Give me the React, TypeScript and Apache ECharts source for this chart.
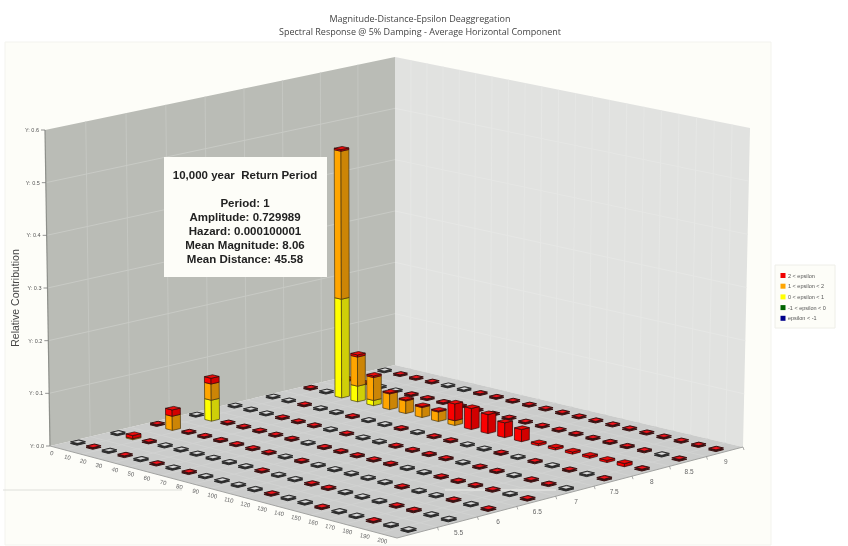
import React, { useEffect, useRef } from "react";
import * as echarts from "echarts";

const titleLines = [
  "Magnitude-Distance-Epsilon Deaggregation",
  "Spectral Response @ 5% Damping - Average Horizontal Component",
];
const distances = [0, 10, 20, 30, 40, 50, 60, 70, 80, 90, 100, 110, 120, 130, 140, 150, 160, 170, 180, 190, 200];
const magnitudes = [5, 5.5, 6, 6.5, 7, 7.5, 8, 8.5, 9];
const magnitudeTickLabels = [5.5, 6, 6.5, 7, 7.5, 8, 8.5, 9];
const contributionTicks = [0, 0.1, 0.2, 0.3, 0.4, 0.5, 0.6];

// top colour of the tiny column in each cell, one string per magnitude: R red, W pale
const cellTops = [
  "WRWRWRWRWWWWRWWRWWRWW",
  "WRRWWWWWWRWWRRWWWRRWW",
  "RRRRRRRRWRWWWWWRWWRWR",
  "WRRRRRRWRRRRRWWRRRRWR",
  "WWWRRRWRWWRRRRWRRWRRW",
  "WWRWWRWWRWRRWWRWRWRWR",
  "RWRRRRRRRRRRRRRRRRRRR",
  "RRWWRRRRRRRRRRRRRRRWR",
  "WRRRWWRRRRRRRRRRRRRRR",
];
const tinyColumnHeight = 0.003;

// columns: distance, magnitude, 0<eps<1, 1<eps<2, 2<eps
const columns: number[][] = [
  [10, 5.5, 0, 0.002, 0.006],
  [10, 6, 0, 0.027, 0.012],
  [10, 6.5, 0.04, 0.031, 0.011],
  [20, 8, 0.19, 0.285, 0.003],
  [30, 8, 0.03, 0.056, 0.004],
  [40, 8, 0.01, 0.044, 0.003],
  [50, 8, 0, 0.03, 0.002],
  [60, 8, 0, 0.024, 0.002],
  [70, 8, 0, 0.019, 0.002],
  [80, 8, 0, 0.018, 0.002],
  [90, 8, 0, 0.009, 0.032],
  [100, 8, 0, 0, 0.04],
  [110, 8, 0, 0, 0.036],
  [120, 8, 0, 0, 0.028],
  [130, 8, 0, 0, 0.023],
  [140, 8, 0, 0, 0.004],
  [150, 8, 0, 0, 0.004],
  [160, 8, 0, 0, 0.004],
  [170, 8, 0, 0, 0.004],
  [180, 8, 0, 0, 0.004],
  [190, 8, 0, 0, 0.006],
];

const legendNames = ["2 < epsilon", "1 < epsilon < 2", "0 < epsilon < 1", "-1 < epsilon < 0", "epsilon < -1"];
const legendColors = ["#f00000", "#ffa500", "#ffff00", "#006400", "#00008b"];
const noteLines = [
  "10,000 year  Return Period",
  "",
  "Period: 1",
  "Amplitude: 0.729989",
  "Hazard: 0.000100001",
  "Mean Magnitude: 8.06",
  "Mean Distance: 45.58",
];

type Pt = [number, number];
function quad(p: Pt[]) {
  const [[x0, y0], [x1, y1], [x2, y2], [x3, y3]] = p;
  const dx1 = x1 - x2, dx2 = x3 - x2, sx = x0 - x1 + x2 - x3;
  const dy1 = y1 - y2, dy2 = y3 - y2, sy = y0 - y1 + y2 - y3;
  const det = dx1 * dy2 - dx2 * dy1;
  const g = (sx * dy2 - dx2 * sy) / det;
  const h = (dx1 * sy - sx * dy1) / det;
  const a = x1 - x0 + g * x1, b = x3 - x0 + h * x3;
  const d = y1 - y0 + g * y1, e = y3 - y0 + h * y3;
  return (u: number, v: number): Pt => {
    const w = g * u + h * v + 1;
    return [(a * u + b * v + x0) / w, (d * u + e * v + y0) / w];
  };
}
const floorMap = quad([[50, 446], [397, 538], [743, 447], [395, 365]]);
const ceilMap = quad([[45, 130], [397, 210], [750, 128], [395, 57]]);
const D0 = -5, D1 = 205, M0 = 4.75, M1 = 9.25, Z1 = 0.6;
function project(d: number, m: number, z = 0): Pt {
  const u = (d - D0) / (D1 - D0), v = (m - M0) / (M1 - M0);
  const a = floorMap(u, v), b = ceilMap(u, v), t = z / Z1;
  return [a[0] + (b[0] - a[0]) * t, a[1] + (b[1] - a[1]) * t];
}

const COL_D = 2.1, COL_M = 0.052;
const FILL: Record<string, [string, string, string]> = {
  y: ["#ffff00", "#cfcf08", "rgba(70,60,10,0.85)"],
  o: ["#ffa500", "#cc8506", "rgba(70,50,10,0.85)"],
  r: ["#fb0000", "#d20000", "rgba(55,8,8,0.9)"],
};

function columnShapes(d: number, m: number, parts: [string, number][]) {
  const out: any[] = [];
  const poly = (points: Pt[], fill: string, stroke: string, lineWidth: number) =>
    out.push({ type: "polygon", shape: { points }, style: { fill, stroke, lineWidth } });
  let z = 0;
  for (const [key, h] of parts) {
    if (h <= 0) continue;
    const z2 = z + h;
    poly(
      [project(d - COL_D, m - COL_M, z), project(d + COL_D, m - COL_M, z), project(d + COL_D, m - COL_M, z2), project(d - COL_D, m - COL_M, z2)],
      FILL[key][0], FILL[key][2], 0.8,
    );
    poly(
      [project(d + COL_D, m - COL_M, z), project(d + COL_D, m + COL_M, z), project(d + COL_D, m + COL_M, z2), project(d + COL_D, m - COL_M, z2)],
      FILL[key][1], FILL[key][2], 0.8,
    );
    z = z2;
  }
  poly(
    [project(d - COL_D, m - COL_M, z), project(d + COL_D, m - COL_M, z), project(d + COL_D, m + COL_M, z), project(d - COL_D, m + COL_M, z)],
    "#ee0a0a", "rgba(40,12,10,0.9)", 0.8,
  );
  return out;
}

function markerShapes(d: number, m: number, top: string) {
  const foot = (s: number, z: number): Pt[] => [
    project(d - COL_D * s, m - COL_M * s, z), project(d + COL_D * s, m - COL_M * s, z),
    project(d + COL_D * s, m + COL_M * s, z), project(d - COL_D * s, m + COL_M * s, z),
  ];
  const edge = top === "R" ? "#3a1212" : "#2c2c2c";
  return [
    { type: "polygon", shape: { points: foot(1, 0) }, style: { fill: edge, stroke: edge, lineWidth: 1 } },
    { type: "polygon", shape: { points: foot(1, tinyColumnHeight) }, style: { fill: top === "R" ? "#8a1015" : "#6a6a6a", stroke: edge, lineWidth: 1 } },
    { type: "polygon", shape: { points: foot(0.58, tinyColumnHeight) }, style: { fill: top === "R" ? "#f8141c" : "#dcdcdc" } },
  ];
}

function buildCells() {
  const cells: (number | string)[][] = [];
  for (let j = magnitudes.length - 1; j >= 0; j--) {
    distances.forEach((d, i) => {
      const m = magnitudes[j];
      const col = columns.find((c) => c[0] === d && c[1] === m);
      if (col) cells.push([d, m, col[2], col[3], col[4], "C"]);
      else cells.push([d, m, 0, 0, 0, cellTops[j][i]]);
    });
  }
  return cells;
}

function wallGraphics() {
  const els: any[] = [];
  const line = (a: Pt, b: Pt, stroke: string, lineWidth = 1) =>
    els.push({ type: "line", shape: { x1: a[0], y1: a[1], x2: b[0], y2: b[1] }, style: { stroke, lineWidth } });
  const poly = (points: Pt[], fill: string) => els.push({ type: "polygon", shape: { points }, style: { fill } });
  const text = (t: string, x: number, y: number, font: string, fill: string, align = "center", rotation = 0) =>
    els.push({ type: "text", x, y, rotation, style: { text: t, x: 0, y: 0, font, fill, textAlign: align, textVerticalAlign: "middle" } });

  els.push({ type: "rect", shape: { x: 5, y: 42, width: 766, height: 503 }, style: { fill: "#fdfdf8", stroke: "#f3f3ee", lineWidth: 1 } });

  poly([project(D0, M0), project(D0, M1), project(D0, M1, Z1), project(D0, M0, Z1)], "#babcb6");
  poly([project(D0, M1), project(D1, M1), project(D1, M1, Z1), project(D0, M1, Z1)], "#e1e2e0");
  poly([project(D0, M0), project(D1, M0), project(D1, M1), project(D0, M1)], "#cbcccb");

  for (let i = 1; i < magnitudes.length; i++) {
    const m = M0 + i * 0.5;
    line(project(D0, m), project(D0, m, Z1), "#c5c7c2");
    line(project(D0, m), project(D1, m), "#d1d2d1");
  }
  for (let i = 1; i < distances.length; i++) {
    const d = D0 + i * 10;
    line(project(d, M1), project(d, M1, Z1), "#e6e7e5");
    line(project(d, M0), project(d, M1), "#d1d2d1");
  }
  contributionTicks.slice(1, -1).forEach((z) => {
    line(project(D0, M0, z), project(D0, M1, z), "#c8cac5");
    line(project(D0, M1, z), project(D1, M1, z), "#e6e7e5");
  });
  line(project(D0, M0), project(D0, M0, Z1), "#8d8f8a", 1.2);
  line(project(D0, M0), project(D1, M0), "#a2a3a1", 1);
  line(project(D1, M0), project(D1, M1), "#a2a3a1", 1);

  contributionTicks.forEach((z) => {
    const p = project(D0, M0, z);
    line([p[0] - 4, p[1]], p, "#777", 0.8);
    text("Y: " + z.toFixed(1), p[0] - 6, p[1], "5.5px 'Liberation Sans'", "#555", "right");
  });
  distances.forEach((d) => {
    const p = project(d, M0);
    text(String(d), p[0] - 6, p[1] + 5, "6px 'Liberation Sans'", "#666", "center", -0.22);
  });
  magnitudes.forEach((m) => {
    const a = project(D1, m + 0.25);
    line(a, [a[0] + 1, a[1] + 3], "#888", 0.7);
  });
  magnitudeTickLabels.forEach((m) => {
    const p = project(D1, m);
    text(String(m), p[0] + 1, p[1] + 10, "6.5px 'Liberation Sans'", "#666");
  });

  line([3, 490], [182, 490], "#dedfda", 1);
  line([445, 490], [556, 490], "#ecece9", 1);

  titleLines.forEach((t, i) => text(t, 420, 18 + i * 13, "9px 'Open Sans'", "#444"));
  text("Relative Contribution", 15, 298, "10.5px 'Liberation Sans'", "#444", "center", Math.PI / 2);

  els.push({ type: "rect", shape: { x: 164, y: 157, width: 163, height: 120 }, style: { fill: "#fdfdf8" } });
  noteLines.forEach((t, i) => {
    if (t) text(t, 245, 175 + i * 14, "bold 11.5px 'Liberation Sans'", "#222");
  });

  els.push({ type: "rect", shape: { x: 775, y: 265, width: 60, height: 63 }, style: { fill: "#fdfdf8", stroke: "#eeeee8", lineWidth: 1 } });
  legendNames.forEach((t, i) => {
    const y = 275.5 + i * 10.7;
    els.push({ type: "rect", shape: { x: 780.5, y: y - 2.5, width: 5, height: 5 }, style: { fill: legendColors[i] } });
    text(t, 788, y, "5.5px 'Liberation Sans'", "#555", "left");
  });
  return els;
}

export default function App() {
  const ref = useRef<HTMLDivElement>(null);
  useEffect(() => {
    const chart = echarts.init(ref.current!, undefined, { renderer: "svg" });
    chart.setOption({
      animation: false,
      backgroundColor: "#ffffff",
      graphic: { elements: wallGraphics() },
      series: [
        {
          type: "custom",
          coordinateSystem: "none",
          silent: true,
          data: buildCells(),
          renderItem: (_p: any, api: any) => {
            const d = api.value(0), m = api.value(1);
            const kind = api.value(5);
            const children =
              kind === "C"
                ? columnShapes(d, m, [["y", api.value(2)], ["o", api.value(3)], ["r", api.value(4)]])
                : markerShapes(d, m, kind);
            return { type: "group", children };
          },
        },
      ],
    });
    return () => chart.dispose();
  }, []);
  return <div ref={ref} style={{ position: "fixed", left: 0, top: 0, width: 848, height: 546, filter: "blur(0.5px)" }} />;
}
